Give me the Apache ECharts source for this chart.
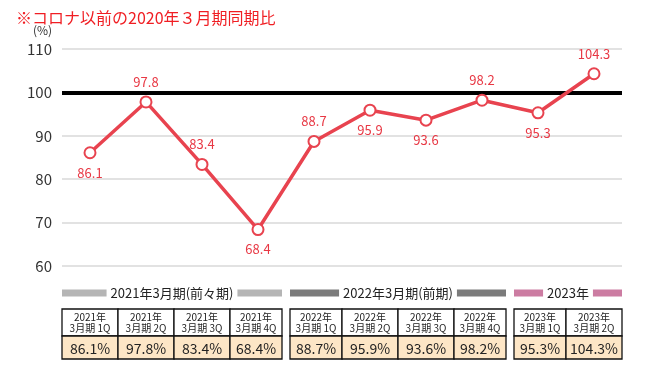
<!DOCTYPE html>
<html><head><meta charset="utf-8">
<script src="https://cdn.jsdelivr.net/npm/echarts@6/dist/echarts.min.js"></script>
<style>html,body{margin:0;padding:0;background:#fff}#c{width:647px;height:366px}</style>
</head><body><div id="c"></div>
<script>
var periodYears = ['2021年','2021年','2021年','2021年','2022年','2022年','2022年','2022年','2023年','2023年'];
var periodQuarters = ['3月期 1Q','3月期 2Q','3月期 3Q','3月期 4Q','3月期 1Q','3月期 2Q','3月期 3Q','3月期 4Q','3月期 1Q','3月期 2Q'];
var ratioValues = [86.1, 97.8, 83.4, 68.4, 88.7, 95.9, 93.6, 98.2, 95.3, 104.3];
var groupOf = [0,0,0,0,1,1,1,1,2,2];
var groupNames = ['2021年3月期(前々期)', '2022年3月期(前期)', '2023年'];
var groupStart = [0, 4, 8];
var groupEnd = [3, 7, 9];
var yTicks = [60, 70, 80, 90, 100, 110];
var baseline = 100;

var labelSide = ['bottom','top','top','bottom','top','bottom','bottom','top','bottom','top'];
var groupColors = ['#b5b5b5', '#7b7b7b', '#cc7ca2'];
var FONT = '"Noto Sans CJK JP", "Noto Sans", sans-serif';
var RED = '#e8434f';
var GAP = 4;

var categories = periodYears.map(function (y, i) { return y + '\n' + periodQuarters[i]; });

var chart = echarts.init(document.getElementById('c'));
chart.setOption({
  animation: false,
  textStyle: { fontFamily: FONT },
  title: {
    text: '※コロナ以前の2020年３月期同期比',
    left: 11, top: 5,
    textStyle: { color: '#f01e23', fontSize: 16, fontWeight: 'normal', fontFamily: FONT }
  },
  graphic: [{
    type: 'text', left: 33, top: 24,
    style: { text: '(%)', fill: '#333', font: '12px ' + FONT }
  }],
  grid: [
    { left: 62, right: 25, top: 49, height: 217 },
    { left: 62, right: 25, top: 309, height: 50 }
  ],
  xAxis: [
    { type: 'category', gridIndex: 0, data: categories, axisLine: { show: false }, axisTick: { show: false }, axisLabel: { show: false } },
    { type: 'category', gridIndex: 1, data: categories, axisLine: { show: false }, axisTick: { show: false }, axisLabel: { show: false } }
  ],
  yAxis: [
    { type: 'value', gridIndex: 0, min: yTicks[0], max: yTicks[yTicks.length - 1], interval: 10,
      axisLine: { show: false }, axisTick: { show: false },
      axisLabel: { color: '#333', fontSize: 15, margin: 10, fontFamily: FONT },
      splitLine: { lineStyle: { color: '#d9d9d9', width: 1.5 } } },
    { type: 'value', gridIndex: 1, min: 0, max: 1, show: false }
  ],
  series: [
    {
      type: 'line', xAxisIndex: 0, yAxisIndex: 0,
      data: ratioValues.map(function (v, i) {
        return { value: v, label: { position: labelSide[i] } };
      }),
      lineStyle: { color: RED, width: 3.5 },
      itemStyle: { color: '#fff', borderColor: RED, borderWidth: 2 },
      symbol: 'circle', symbolSize: 11,
      label: { show: true, color: '#e83844', fontSize: 13, distance: 7, fontFamily: FONT },
      z: 5,
      markLine: {
        silent: true, symbol: 'none', label: { show: false },
        lineStyle: { color: '#000', width: 4, type: 'solid' },
        data: [{ yAxis: baseline }],
        z: 3
      }
    },
    {
      type: 'custom', xAxisIndex: 1, yAxisIndex: 1,
      data: ratioValues.map(function (v, i) { return [i, 0]; }),
      renderItem: function (params, api) {
        var i = api.value(0);
        var cs = params.coordSys;
        var cx = api.coord([i, 0])[0];
        var w = api.size([1, 0])[0];
        var x0 = cx - w / 2, x1 = cx + w / 2;
        if (i > 0 && groupOf[i - 1] !== groupOf[i]) x0 += GAP;
        if (i < groupOf.length - 1 && groupOf[i + 1] !== groupOf[i]) x1 -= GAP;
        var top = cs.y, headH = 27, valH = cs.height - headH;
        return {
          type: 'group',
          children: [
            { type: 'rect', shape: { x: x0, y: top, width: x1 - x0, height: headH },
              style: { fill: '#fff', stroke: '#111', lineWidth: 1.3 } },
            { type: 'rect', shape: { x: x0, y: top + headH, width: x1 - x0, height: valH },
              style: { fill: '#fde6c6', stroke: '#111', lineWidth: 1.3 } },
            { type: 'text', style: { x: (x0 + x1) / 2, y: top + headH / 2, text: periodYears[i] + '\n' + periodQuarters[i],
                align: 'center', verticalAlign: 'middle', fill: '#222', font: '10px ' + FONT, lineHeight: 11 } },
            { type: 'text', style: { x: (x0 + x1) / 2, y: top + headH + valH / 2 + 1, text: ratioValues[i] + '%',
                align: 'center', verticalAlign: 'middle', fill: '#222', font: '14px ' + FONT } }
          ]
        };
      }
    },
    {
      type: 'custom', xAxisIndex: 1, yAxisIndex: 1,
      data: groupNames.map(function (n, g) { return [groupStart[g], groupEnd[g]]; }),
      renderItem: function (params, api) {
        var g = params.dataIndex;
        var s = api.value(0), e = api.value(1);
        var w = api.size([1, 0])[0];
        var x0 = api.coord([s, 0])[0] - w / 2 + (s > 0 ? GAP : 0);
        var x1 = api.coord([e, 0])[0] + w / 2 - (e < groupOf.length - 1 ? GAP : 0);
        var cy = params.coordSys.y - 16;
        return {
          type: 'group',
          children: [
            { type: 'rect', shape: { x: x0, y: cy - 3.5, width: x1 - x0, height: 7 },
              style: { fill: groupColors[g] } },
            { type: 'text', z2: 10, style: { x: (x0 + x1) / 2, y: cy, text: groupNames[g],
                align: 'center', verticalAlign: 'middle', fill: '#222', font: '13px ' + FONT,
                backgroundColor: '#fff', padding: [2, 4] } }
          ]
        };
      }
    }
  ]
});
</script></body></html>
